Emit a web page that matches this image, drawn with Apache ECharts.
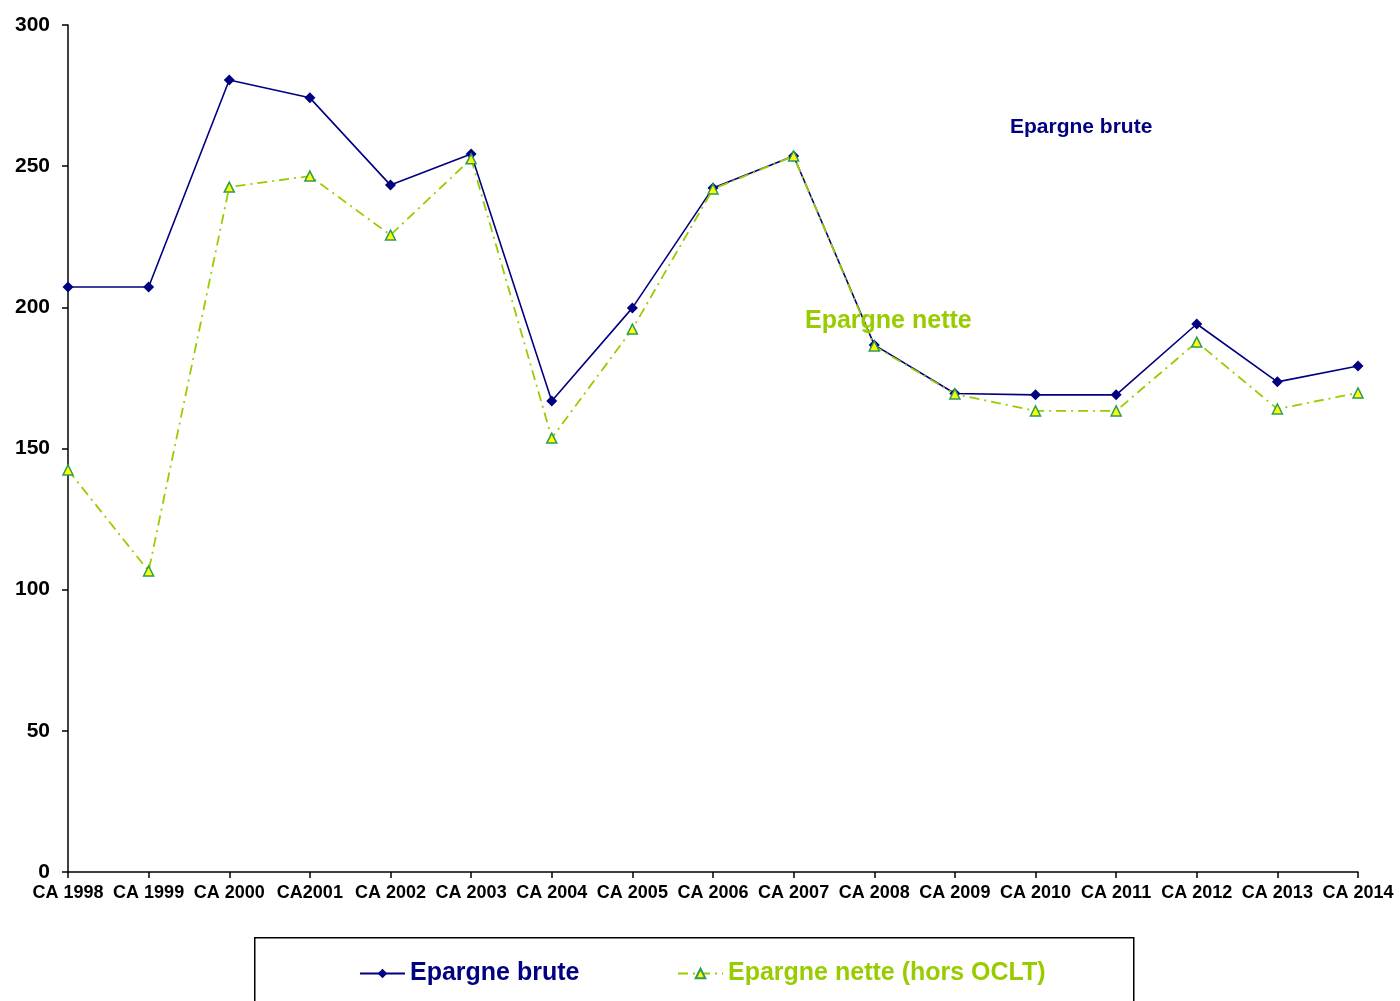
<!DOCTYPE html>
<html>
<head>
<meta charset="utf-8">
<script src="https://cdn.jsdelivr.net/npm/echarts@6/dist/echarts.min.js"></script>
<style>
  html, body { margin: 0; padding: 0; background: #fff; }
  #chart { width: 1400px; height: 1001px; }
</style>
</head>
<body>
<div id="chart"></div>
<script>
// categories and values
const YEARS = ['CA 1998', 'CA 1999', 'CA 2000', 'CA2001', 'CA 2002', 'CA 2003', 'CA 2004', 'CA 2005',
  'CA 2006', 'CA 2007', 'CA 2008', 'CA 2009', 'CA 2010', 'CA 2011', 'CA 2012', 'CA 2013', 'CA 2014'];
const EPARGNE_BRUTE = [207.2, 207.2, 280.5, 274.2, 243.3, 254.3, 166.8, 199.8,
  242.3, 253.6, 186.7, 169.5, 169, 169, 194.1, 173.6, 179.2];
const EPARGNE_NETTE = [142.4, 106.6, 242.6, 246.5, 225.6, 252.6, 153.7, 192.3,
  241.9, 253.6, 186.3, 169.3, 163.3, 163.3, 187.7, 164, 169.7];
const Y_MIN = 0, Y_MAX = 300, Y_STEP = 50;

const NAVY = '#000080';
const GREEN = '#99CC00';
const FONT = '"Liberation Sans", Arial, sans-serif';

const chart = echarts.init(document.getElementById('chart'));
chart.setOption({
  animation: false,
  textStyle: { fontFamily: FONT },
  grid: { left: 68, right: 42, top: 25, bottom: 129, containLabel: false },
  xAxis: {
    type: 'category',
    data: YEARS,
    boundaryGap: false,
    axisLine: { lineStyle: { color: '#000', width: 1.5 } },
    axisTick: { alignWithLabel: true, length: 6, lineStyle: { color: '#000', width: 1.5 } },
    axisLabel: { color: '#000', fontSize: 18, fontWeight: 'bold', fontFamily: FONT, margin: 12, interval: 0 },
    splitLine: { show: false }
  },
  yAxis: {
    type: 'value',
    min: Y_MIN, max: Y_MAX, interval: Y_STEP,
    axisLine: { show: true, lineStyle: { color: '#000', width: 1.5 } },
    axisTick: { show: true, length: 6, lineStyle: { color: '#000', width: 1.5 } },
    axisLabel: { color: '#000', fontSize: 21, fontWeight: 'bold', fontFamily: FONT, margin: 18 },
    splitLine: { show: false }
  },
  legend: [
    {
      data: ['Epargne brute'],
      left: 354, top: 956,
      itemWidth: 45, itemHeight: 12, itemGap: 6,
      textStyle: { color: NAVY, fontSize: 25, fontWeight: 'bold', fontFamily: FONT }
    },
    {
      data: ['Epargne nette (hors OCLT)'],
      left: 672, top: 956,
      itemWidth: 45, itemHeight: 12, itemGap: 6,
      textStyle: { color: GREEN, fontSize: 25, fontWeight: 'bold', fontFamily: FONT }
    }
  ],
  graphic: [
    {
      type: 'rect', left: 254, top: 937, silent: true, z: -1,
      shape: { width: 879, height: 90 },
      style: { fill: '#fff', stroke: '#000', lineWidth: 1.5 }
    },
    {
      type: 'text', left: 1010, top: 117,
      style: { text: 'Epargne brute', fill: NAVY, font: 'bold 21px ' + FONT }
    },
    {
      type: 'text', left: 805, top: 309, z: 10,
      style: { text: 'Epargne nette', fill: GREEN, font: 'bold 25px ' + FONT }
    }
  ],
  series: [
    {
      name: 'Epargne brute',
      type: 'line',
      data: EPARGNE_BRUTE,
      symbol: 'diamond',
      symbolSize: 11,
      itemStyle: { color: NAVY },
      lineStyle: { color: NAVY, width: 1.6 }
    },
    {
      name: 'Epargne nette (hors OCLT)',
      type: 'line',
      data: EPARGNE_NETTE,
      symbol: 'triangle',
      symbolSize: 10,
      itemStyle: { color: '#FFFF00', borderColor: '#2E9A5A', borderWidth: 1.5 },
      lineStyle: { color: GREEN, width: 1.8, type: [10, 5, 2, 5] }
    }
  ]
});
</script>
</body>
</html>
